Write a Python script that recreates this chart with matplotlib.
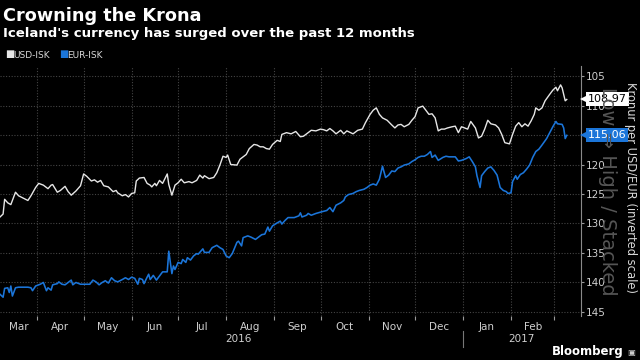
import matplotlib
matplotlib.use("Agg")
import matplotlib.pyplot as plt
import matplotlib.dates as mdates
import matplotlib.transforms as mtransforms
import matplotlib.ticker as mticker
import pandas as pd

# ---------------- data ----------------
start = "2016-03-08"
x_end = "2017-03-18"

usd_day = [0, 2, 3, 5, 7, 10, 12, 15, 18, 20, 23, 25, 28, 31, 33, 34, 37, 39, 42, 44,
           46, 49, 52, 54, 56, 59, 61, 63, 65, 67, 70, 73, 75,
           76, 79, 81, 83, 85, 87, 88, 90, 93, 95, 97, 98, 100, 101, 103, 105, 108, 109,
           111, 113, 115, 117, 119, 122, 124, 127, 129, 131, 132, 135, 138, 140, 142, 144,
           146, 147, 149,
           153, 155, 157, 159, 161, 164, 166, 168, 170, 172, 174, 176, 179, 181, 182, 185,
           188, 191, 194, 196, 198, 201, 204, 207, 209, 211, 213, 215, 217, 220, 222, 224,
           228, 231, 234, 236, 239, 241, 243, 245, 247, 250, 253, 255, 257, 259, 261, 264,
           266, 268, 270, 273, 275, 277, 279, 281, 283, 285, 287, 289, 292, 294, 296, 298,
           302, 304, 307, 309, 311, 313, 315, 317, 320, 322, 324, 326, 329, 331, 333, 335,
           337, 339, 341, 343, 345, 346, 348, 350, 352, 355, 357, 359, 360, 362, 363, 365, 366]
usd_isk = [128.9, 128.4, 125.9, 126.5, 126.8, 124.7, 125.3, 125.7, 126.1, 125.3, 123.9, 123.2,
           123.5, 124.1, 123.5, 123.4, 124.7, 124.4, 123.7, 124.6, 125.2, 124.5, 123.6, 121.6,
           122.0, 122.8, 122.6, 123.0, 122.7, 123.6, 123.8, 124.6, 124.4,
           124.8, 125.3, 125.1, 125.5, 124.9, 124.8, 122.8, 122.3, 122.2, 123.2, 123.5, 123.8,
           123.2, 123.6, 122.7, 123.2, 121.6, 123.4, 125.2, 123.5, 123.1, 122.5, 123.1, 122.9,
           123.1, 122.7, 121.8, 122.3, 121.9, 122.4, 122.2, 121.4, 120.1, 118.6, 118.8, 118.4,
           120.0,
           120.1, 119.1, 118.7, 118.3, 117.3, 116.6, 116.7, 117.0, 117.0, 117.3, 117.4, 116.6,
           115.9, 116.1, 114.9, 114.6, 114.8, 114.4, 115.3, 115.2, 114.8, 114.2, 114.3, 114.0,
           114.1, 114.3, 113.9, 114.3, 114.8, 114.2, 114.8, 114.3,
           114.8, 114.2, 114.0, 112.9, 111.5, 110.8, 110.4, 111.5, 112.1, 112.5, 113.3, 113.8,
           113.3, 113.2, 113.6, 113.2, 112.5, 111.9, 110.4, 110.1, 110.8, 111.5, 111.4, 112.1,
           114.3, 114.0, 114.0, 113.8, 113.6, 113.5, 114.6, 113.6,
           114.0, 112.7, 113.8, 115.5, 115.2, 114.0, 112.5, 113.1, 113.3, 113.8, 114.9, 116.3,
           116.5, 114.9, 113.5, 112.9, 113.6, 113.1, 113.5, 112.6, 111.5, 110.4, 110.8, 110.4,
           109.2, 108.1, 107.4, 106.9, 107.5, 106.5, 107.0, 109.2, 108.97]

eur_day = [0, 2, 3, 5, 6, 7, 8, 10, 12, 15, 18, 20, 21, 23, 26, 28, 30, 31, 33, 34, 37, 38,
           40, 42, 44, 46, 47, 49, 52, 55, 58, 60, 62, 64, 66, 68, 70, 72, 74,
           76, 79, 81, 83, 85, 87, 89, 90, 92, 93, 95, 96, 97, 99, 101, 103, 105, 108, 109,
           111, 112, 113, 115, 117, 118, 120, 121, 123, 125, 127, 128, 131, 132, 135, 137,
           140, 142, 144, 146, 148, 150,
           153, 154, 156, 157, 160, 162, 165, 167, 169, 171, 173, 174, 176, 179, 181, 182,
           184, 186, 188, 190, 193, 194, 195, 198, 199, 201, 204, 208, 211, 213, 215, 217,
           220, 222, 223, 225,
           228, 230, 232, 235, 237, 239, 241, 243, 245, 247, 249, 251, 253, 255, 257, 259,
           261, 264, 266, 268, 270, 272, 274, 276, 278, 279, 281, 283, 286, 288, 290, 294,
           296, 298,
           301, 303, 305, 307, 308, 310, 311, 313, 315, 317, 319, 321, 323, 325, 327, 328,
           330, 331, 333, 334, 336, 338, 340, 342, 344, 346, 348, 350, 353, 355, 357, 359,
           360, 363, 364, 365, 366]
eur_isk = [142.0, 142.5, 141.0, 140.9, 141.7, 140.6, 142.3, 140.9, 140.8, 140.8, 140.8, 140.9,
           141.4, 140.6, 140.3, 140.0, 141.4, 140.9, 141.3, 140.4, 140.2, 139.9, 140.3, 140.4,
           140.0, 139.6, 140.4, 140.0, 140.3, 140.3, 140.3, 139.6, 139.9, 140.4, 140.0, 139.7,
           140.1, 139.2, 139.7,
           139.9, 139.5, 139.2, 139.5, 139.1, 139.3, 140.3, 139.3, 139.5, 140.2, 139.1, 138.6,
           139.5, 138.8, 139.6, 138.9, 138.2, 138.2, 134.7, 138.5, 137.2, 137.8, 136.6, 136.8,
           136.1, 136.6, 135.8, 136.2, 135.5, 135.1, 135.2, 134.3, 134.9, 134.9, 134.1, 133.7,
           134.1, 134.4, 135.5, 135.8, 135.1,
           133.2, 133.0, 133.8, 132.4, 132.1, 132.3, 132.7, 132.3, 131.9, 131.8, 130.6, 131.3,
           130.4, 129.9, 129.6, 130.1, 129.5, 129.0, 129.0, 129.0, 128.7, 128.2, 128.9, 128.6,
           128.3, 128.6, 128.3, 128.0, 127.8, 127.3, 128.0, 126.9, 126.5, 126.1, 125.5, 125.1,
           124.9, 124.6, 124.4, 124.2, 123.9, 123.5, 123.3, 123.5, 122.5, 120.3, 122.2, 121.8,
           121.1, 121.2, 120.6, 120.4, 120.1, 119.9, 119.5, 119.2, 118.8, 118.6, 118.6, 118.3,
           117.8, 118.8, 118.4, 119.3, 118.8, 118.6, 118.7, 118.7, 119.4, 119.3,
           119.0, 118.7, 119.5, 120.4, 121.9, 123.9, 121.9, 121.2, 120.6, 120.4, 121.0, 121.8,
           123.9, 124.4, 124.6, 124.9, 124.8, 122.9, 121.9, 122.5, 121.7, 121.4, 120.8, 120.1,
           118.8, 117.8, 117.4, 116.7, 115.6, 114.6, 113.6, 112.7, 113.1, 113.2, 113.8, 115.6,
           115.06]

series_names = ["USD-ISK", "EUR-ISK"]
y_ticks = [105, 110, 115, 120, 125, 130, 135, 140, 145]
month_starts = ["2016-03-01", "2016-04-01", "2016-05-01", "2016-06-01", "2016-07-01",
                "2016-08-01", "2016-09-01", "2016-10-01", "2016-11-01", "2016-12-01",
                "2017-01-01", "2017-02-01", "2017-03-01"]
month_labels = ["Mar", "Apr", "May", "Jun", "Jul", "Aug", "Sep", "Oct", "Nov", "Dec",
                "Jan", "Feb"]
year_labels = [("2016", "2016-08-09"), ("2017", "2017-02-08")]
year_break = "2017-01-01"

title = "Crowning the Krona"
subtitle = "Iceland's currency has surged over the past 12 months"
y_label = "Kronur per USD/EUR (inverted scale)"
watermark = "Low \u21d2 High / Stacked"

# ---------------- style ----------------
BG = "#000000"
WHITE_LINE = "#e6e6e6"
BLUE = "#1b75d9"
GRID = "#444444"
TXT = "#cfcfcf"

fig = plt.figure(figsize=(6.4, 3.6), dpi=100, facecolor=BG)
ax = fig.add_axes([0.0, 1 - 315.5 / 360, 580.7 / 640, (315.5 - 66) / 360])
ax.set_facecolor(BG)

t0 = pd.Timestamp(start)
t1 = pd.Timestamp(x_end)
usd_dates = t0 + pd.to_timedelta(usd_day, unit="D")
eur_dates = t0 + pd.to_timedelta(eur_day, unit="D")

ax.plot(usd_dates, usd_isk, color=WHITE_LINE, lw=1.0, zorder=3)
ax.plot(eur_dates, eur_isk, color=BLUE, lw=1.15, zorder=3)

ax.set_xlim(t0, t1)
ax.set_ylim(145.6, 103.3)

# y axis on right
ax.yaxis.tick_right()
ax.set_yticks(y_ticks)
ax.set_yticklabels([str(v) for v in y_ticks])
ax.tick_params(axis="y", colors="#9a9a9a", labelcolor=TXT, labelsize=7.5,
               length=2.5, width=0.8, pad=1)

# x axis: month-start ticks, labels centred on the visible part of each month
ms = [pd.Timestamp(m) for m in month_starts]
major_pos = [mdates.date2num(m) for m in ms if t0 <= m <= t1]
label_pos = []
for a, b in zip(ms[:-1], ms[1:]):
    a2 = max(a, t0)
    b2 = min(b, t1)
    label_pos.append(mdates.date2num(a2 + (b2 - a2) / 2))
ax.xaxis.set_major_locator(mticker.FixedLocator(major_pos))
ax.xaxis.set_major_formatter(mticker.NullFormatter())
ax.xaxis.set_minor_locator(mticker.FixedLocator(label_pos))
ax.xaxis.set_minor_formatter(mticker.FixedFormatter(month_labels))
ax.tick_params(axis="x", which="major", colors="#9a9a9a", length=3, width=0.8)
ax.tick_params(axis="x", which="minor", length=0, labelcolor=TXT, labelsize=7.5, pad=5)

ax.grid(True, which="major", color=GRID, linestyle=(0, (1, 1.5)), linewidth=0.8)

for s in ["top", "left", "bottom"]:
    ax.spines[s].set_visible(False)
ax.spines["right"].set_color("#8a8a8a")
ax.spines["right"].set_linewidth(0.8)

# year labels and separator
trans = mtransforms.blended_transform_factory(ax.transData, fig.transFigure)
for lab, d in year_labels:
    ax.text(pd.Timestamp(d), 1 - 339 / 360, lab, transform=trans, ha="center",
            va="center", color=TXT, fontsize=7.5, clip_on=False)
ax.plot([pd.Timestamp(year_break)] * 2, [1 - 331 / 360, 1 - 347 / 360],
        transform=trans, color="#777777", lw=0.8, clip_on=False)

# last value labels
ytrans = mtransforms.blended_transform_factory(ax.transAxes, ax.transData)
for vals, fc, tc in [(usd_isk, "white", "black"), (eur_isk, BLUE, "white")]:
    v = vals[-1]
    ax.plot([1.006], [v], marker="<", markersize=6, color=fc, transform=ytrans,
            clip_on=False, zorder=6, markeredgewidth=0)
    ax.text(1.012, v, f"{v:.2f}", transform=ytrans, ha="left", va="center",
            fontsize=8, color=tc, zorder=7, clip_on=False,
            bbox=dict(boxstyle="square,pad=0.18", fc=fc, ec="none"))

# texts
fig.text(608 / 640, 1 - 191 / 360, watermark, rotation=270, ha="center", va="center",
         fontsize=14, color="#555555", zorder=0)
fig.text(630 / 640, 1 - 188 / 360, y_label, rotation=270, ha="center", va="center",
         fontsize=8.3, color="#d8d8d8")

fig.text(3 / 640, 1 - 21 / 360, title, ha="left", va="baseline", fontsize=12.7,
         fontweight="bold", color="white")
fig.text(3 / 640, 1 - 37 / 360, subtitle, ha="left", va="baseline", fontsize=9.5,
         fontweight="bold", color="white")

# legend
leg_x = [5, 59]
for (name, col, lx) in zip(series_names, [WHITE_LINE, BLUE], leg_x):
    fig.text(lx / 640, 1 - 57.5 / 360, "\u25a0", color=col, fontsize=7, ha="left",
             va="baseline")
    fig.text((lx + 8) / 640, 1 - 57.5 / 360, name, color="#d8d8d8", fontsize=6.5,
             ha="left", va="baseline")

fig.text(624 / 640, 1 - 352 / 360, "Bloomberg", ha="right", va="center", fontsize=8.5,
         color="white", fontweight="semibold")
fig.text(627 / 640, 1 - 352 / 360, "\u25a3", ha="left", va="center", fontsize=6,
         color="#cccccc")

fig.savefig("out.png", dpi=100, facecolor=BG)
